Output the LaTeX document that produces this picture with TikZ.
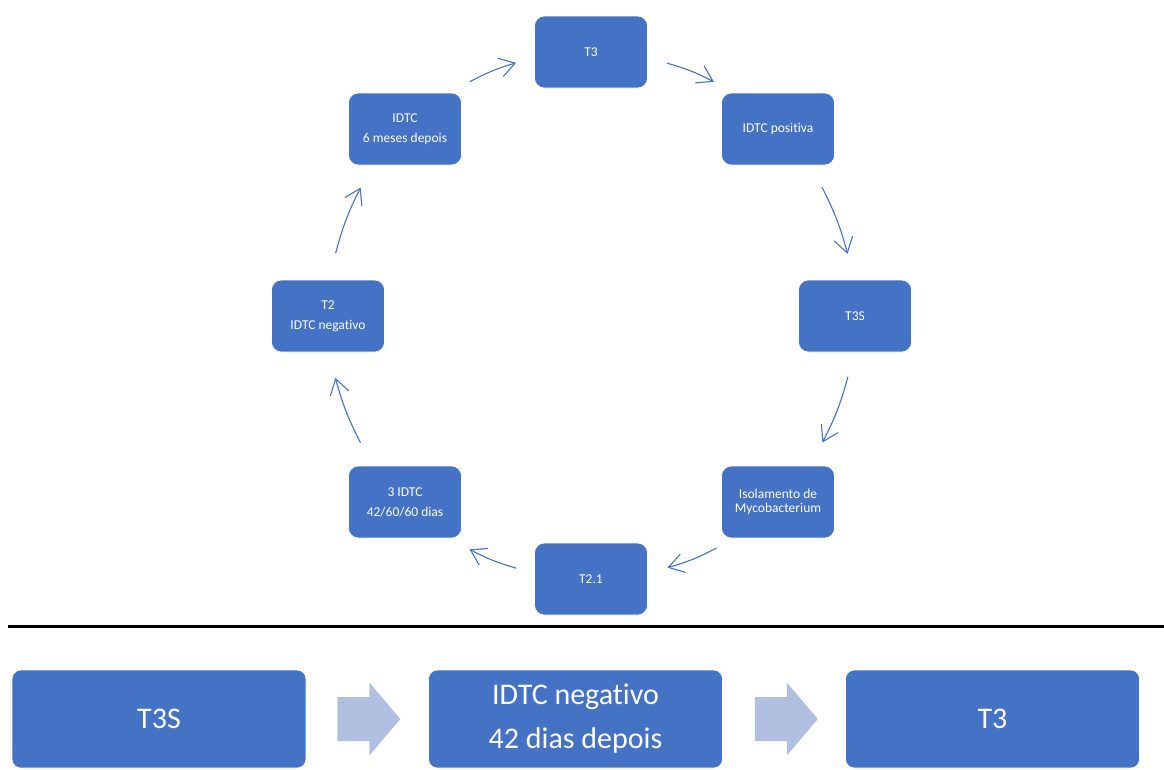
\documentclass[tikz,border=0pt]{standalone}
\usepackage{fontspec}
\setmainfont{Carlito}[Ligatures=NoCommon]
\usetikzlibrary{arrows.meta,calc}
\definecolor{boxblue}{RGB}{68,114,196}
\definecolor{lightarrow}{RGB}{176,190,224}
\begin{document}
\begin{tikzpicture}[x=1pt,y=-1pt,
  cyc/.style={rectangle, rounded corners=10pt, fill=boxblue, draw=white, line width=0.6pt,
    minimum width=113pt, minimum height=72pt, text=white, align=center, inner sep=2pt,
    font=\fontsize{13.5}{16.5}\selectfont},
  big/.style={rectangle, rounded corners=9pt, fill=boxblue, draw=white, line width=0.6pt,
    minimum width=294pt, minimum height=98pt, text=white, align=center, inner sep=2pt,
    font=\fontsize{30}{36}\selectfont},
  cycarrow/.style={draw=boxblue, line width=1.1pt, -{Straight Barb[length=15pt,width=19pt]}},
  blockarrow/.style={fill=lightarrow}]
\useasboundingbox (0,0) rectangle (1164,769);
\coordinate (C) at (591,316);
% cycle nodes
\node[cyc] (t3)  at (591,52)  {T3};
\node[cyc] (ip)  at (778,129) {IDTC positiva};
\node[cyc] (t3s) at (855,316) {T3S};
\node[cyc] (iso) at (778,502) {Isolamento de\\[-2pt]Mycobacterium};
\node[cyc] (t21) at (591,579) {T2.1};
\node[cyc] (tri) at (405,502) {3 IDTC\\[3.5pt]42/60/60 dias};
\node[cyc] (t2)  at (328,316) {T2\\[3.5pt]IDTC negativo};
\node[cyc] (six) at (405,129) {IDTC\\[3.5pt]6 meses depois};
% cycle arrows (arcs around C)
\draw[cycarrow] ($(C)!1!-16.7:(t3.center)$)  to[bend left=6] ($(C)!1!17.3:(ip.center)$);
\draw[cycarrow] ($(C)!1!-15.8:(ip.center)$)  to[bend left=6] ($(C)!1!13.6:(t3s.center)$);
\draw[cycarrow] ($(C)!1!-13.3:(t3s.center)$) to[bend left=6] ($(C)!1!16.2:(iso.center)$);
\draw[cycarrow] ($(C)!1!-16.7:(iso.center)$) to[bend left=6] ($(C)!1!16.9:(t21.center)$);
\draw[cycarrow] ($(C)!1!-16.5:(t21.center)$) to[bend left=6] ($(C)!1!17.5:(tri.center)$);
\draw[cycarrow] ($(C)!1!-16.2:(tri.center)$) to[bend left=6] ($(C)!1!13.6:(t2.center)$);
\draw[cycarrow] ($(C)!1!-13.8:(t2.center)$)  to[bend left=6] ($(C)!1!16.0:(six.center)$);
\draw[cycarrow] ($(C)!1!-17.5:(six.center)$) to[bend left=6] ($(C)!1!16.5:(t3.center)$);
% separator
\draw[line width=3pt] (8,626) -- (1164,626);
% bottom row
\node[big] (b1) at (159,719)   {T3S};
\node[big] (b2) at (575.5,719) {IDTC negativo\\[8pt]42 dias depois};
\node[big] (b3) at (992.5,719) {T3};
\fill[blockarrow] ($(b1.east)+(31,-22)$) -- ++(32,0) -- ++(0,-14.5) -- ++(31,36.5)
  -- ++(-31,36.5) -- ++(0,-14.5) -- ++(-32,0) -- cycle;
\fill[blockarrow] ($(b2.east)+(32,-22)$) -- ++(32,0) -- ++(0,-14.5) -- ++(31,36.5)
  -- ++(-31,36.5) -- ++(0,-14.5) -- ++(-32,0) -- cycle;
\end{tikzpicture}
\end{document}
